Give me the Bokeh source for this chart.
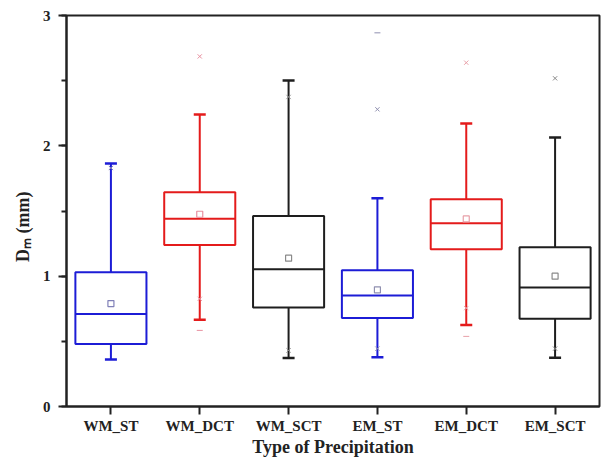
from bokeh.plotting import figure
from bokeh.models import SingleIntervalTicker, Range1d
from bokeh.embed import file_html
from bokeh.resources import INLINE

categories = ["WM_ST", "WM_DCT", "WM_SCT", "EM_ST", "EM_DCT", "EM_SCT"]
lower = [0.36, 0.666, 0.372, 0.377, 0.625, 0.375]
q1 = [0.48, 1.24, 0.76, 0.679, 1.207, 0.673]
median = [0.71, 1.44, 1.054, 0.852, 1.406, 0.913]
q3 = [1.03, 1.643, 1.462, 1.046, 1.59, 1.222]
upper = [1.865, 2.24, 2.502, 1.597, 2.171, 2.064]
mean = [0.79, 1.475, 1.138, 0.895, 1.439, 1.0]

# percentile markers (x) and min/max markers (-)
x_cat = ["WM_ST", "WM_DCT", "WM_DCT", "WM_SCT", "WM_SCT", "EM_ST", "EM_ST",
         "EM_DCT", "EM_DCT", "EM_SCT", "EM_SCT"]
x_val = [1.83, 2.686, 0.826, 2.375, 0.43, 2.28, 0.444, 2.638, 0.755, 2.518, 0.444]
dash_cat = ["WM_DCT", "EM_ST", "EM_DCT"]
dash_val = [0.584, 2.867, 0.538]

y_title = "D\u2098 (mm)"
x_title = "Type of Precipitation"

BLUE = "#1c1cd6"
RED = "#e41b1b"
BLACK = "#1e1e1e"
color_of = {"WM_ST": BLUE, "WM_DCT": RED, "WM_SCT": BLACK,
            "EM_ST": BLUE, "EM_DCT": RED, "EM_SCT": BLACK}
pale_of = {"WM_ST": "#8080b8", "WM_DCT": "#e890a0", "WM_SCT": "#8a8a8a",
           "EM_ST": "#9090b0", "EM_DCT": "#e8a0a8", "EM_SCT": "#8a8a8a"}
colors = [color_of[c] for c in categories]

FONT = "Liberation Serif"

p = figure(x_range=categories, width=602, height=459,
           output_backend="svg", toolbar_location=None,
           min_border_left=66, min_border_right=3, min_border_top=15,
           min_border_bottom=52)
p.y_range = Range1d(0, 3)
p.xgrid.visible = False
p.ygrid.visible = False
p.outline_line_color = "#222222"
p.outline_line_width = 2
p.background_fill_color = "white"
p.border_fill_color = "white"

# whiskers
p.segment(x0=categories, y0=q3, x1=categories, y1=upper, line_color=colors, line_width=2)
p.segment(x0=categories, y0=lower, x1=categories, y1=q1, line_color=colors, line_width=2)
# caps
p.scatter(x=categories + categories, y=upper + lower, marker="dash", size=12,
          line_color=colors + colors, line_width=2.5)
# boxes
p.vbar(x=categories, top=q3, bottom=q1, width=0.8, fill_color=None,
       line_color=colors, line_width=2)
# medians
p.vbar(x=categories, top=median, bottom=median, width=0.8, fill_color=None,
       line_color=colors, line_width=2)
# means
p.scatter(x=categories, y=mean, marker="square", size=6, fill_color=None,
          line_color=[pale_of[c] for c in categories], line_width=1.2)
# percentile markers
p.scatter(x=x_cat, y=x_val, marker="x", size=6,
          line_color=[pale_of[c] for c in x_cat], line_width=1)
p.scatter(x=dash_cat, y=dash_val, marker="dash", size=6,
          line_color=[pale_of[c] for c in dash_cat], line_width=1)

# axes
yax = p.yaxis[0]
yax.ticker = SingleIntervalTicker(interval=1, num_minor_ticks=2)
for ax in (p.xaxis[0], yax):
    ax.axis_line_width = 2
    ax.axis_line_color = "#222222"
    ax.major_tick_line_width = 2
    ax.major_tick_line_color = "#222222"
    ax.major_tick_in = 0
    ax.major_tick_out = 8
    ax.major_label_text_font = FONT
    ax.major_label_text_font_style = "bold"
    ax.major_label_text_font_size = "15px"
    ax.major_label_text_color = "#222222"
    ax.axis_label_text_font = FONT
    ax.axis_label_text_font_style = "bold"
    ax.axis_label_text_color = "#222222"
yax.minor_tick_in = 0
yax.minor_tick_out = 5
yax.minor_tick_line_width = 2
yax.minor_tick_line_color = "#222222"
yax.major_label_standoff = 8
yax.axis_label = y_title + "\u00a0" * 7
yax.axis_label_text_font_size = "18px"
yax.axis_label_standoff = 7

xax = p.xaxis[0]
xax.major_label_standoff = 3
xax.axis_label = x_title
xax.axis_label_text_font_size = "18px"
xax.axis_label_standoff = 0

open("out.html", "w").write(file_html(p, INLINE))
